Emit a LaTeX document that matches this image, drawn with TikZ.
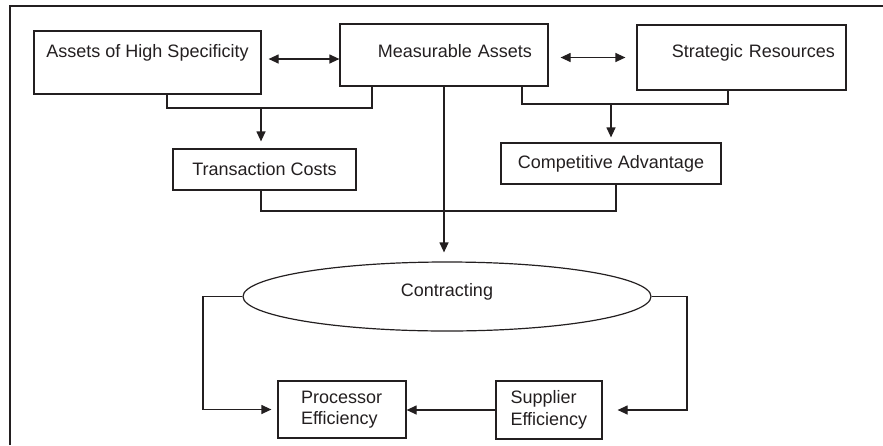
\documentclass[tikz,border=0pt]{standalone}
\usepackage{fontspec}
\setmainfont{Liberation Sans}
\usetikzlibrary{arrows.meta,shapes.geometric,calc}
\definecolor{ink}{RGB}{35,31,32}
\begin{document}
\begin{tikzpicture}[x=1pt,y=-1pt,
  every node/.style={font=\fontsize{18}{21.5}\selectfont, text=ink},
  box/.style={draw=ink, line width=1.2pt, rectangle, inner sep=0pt},
  ln/.style={draw=ink, line width=1.2pt},
  arr/.style={draw=ink, line width=1.2pt, -{Triangle[length=10pt,width=9pt]}},
  dbl/.style={draw=ink, line width=1.2pt, {Triangle[length=10pt,width=9pt]}-{Triangle[length=10pt,width=9pt]}}]
\useasboundingbox (0,0) rectangle (883,445);
% frame
\draw[ln] (10,445) -- (10,6) -- (883,6);
% boxes
\node[box, minimum width=227pt, text height=26pt, text depth=37pt] (ahs) at (147.5,62.5) {Assets of High Specificity};
\node[box, inner xsep=16pt, text width=176pt, align=right, text height=33pt, text depth=29pt] (ma) at (444,55) {Measurable Assets};
\node[box, inner xsep=11pt, text width=187pt, align=right, text height=32pt, text depth=33pt] (sr) at (741.5,57.5) {Strategic Resources};
\node[box, minimum width=183pt, minimum height=41pt] (tc) at (264.5,169.5) {Transaction Costs};
\node[box, minimum width=220pt, minimum height=41pt] (cc) at (611,163.5) {Competitive Advantage};
\node[draw=ink, line width=1.2pt, ellipse, inner sep=0pt, minimum width=408pt, minimum height=69pt, text height=10pt, text depth=10pt] (ctr) at (447,296.5) {Contracting};
\node[box, minimum width=128pt, minimum height=57pt, text width=82pt, align=left] (pe) at (342,409.5) {Processor\\Efficiency};
\node[box, minimum width=106pt, minimum height=58pt, text width=77pt, align=left] (se) at (549,410) {Supplier\\Efficiency};
% junction coordinates
\coordinate (j1) at (261,108);
\coordinate (j2) at (611,104);
\coordinate (j3) at (444,211);
\coordinate (l1) at (203,296.5);
\coordinate (r1) at (687,296.5);
\path ([shift={(0,-3.5)}]ahs.east) coordinate (d1);
% double arrows
\draw[dbl, shorten <=7pt] (d1) -- (d1 -| ma.west);
\draw[dbl, shorten <=12pt, shorten >=11pt] (ma.east |- sr.west) -- (sr.west);
% brackets
\draw[ln] ([xshift=19.5pt]ahs.south) |- (j1) -| ([xshift=-72pt]ma.south);
\draw[arr, shorten >=7pt] (j1) -- (j1 |- tc.north);
\draw[ln] ([xshift=78pt]ma.south) |- (j2) -| ([xshift=-13.5pt]sr.south);
\draw[arr, shorten >=5pt] (j2) -- (j2 |- cc.north);
\draw[ln] ([xshift=-3.5pt]tc.south) |- (j3) -| ([xshift=5pt]cc.south);
% to contracting
\draw[arr, shorten >=9pt] (ma.south) -- (ma.south |- ctr.north);
% loops
\draw[arr, shorten >=6pt] (ctr.west) -- (l1) |- (pe.west);
\draw[arr, shorten >=15pt] (ctr.east) -- (r1) |- (se.east);
\draw[arr] (se.west) -- (se.west -| pe.east);
\end{tikzpicture}
\end{document}
